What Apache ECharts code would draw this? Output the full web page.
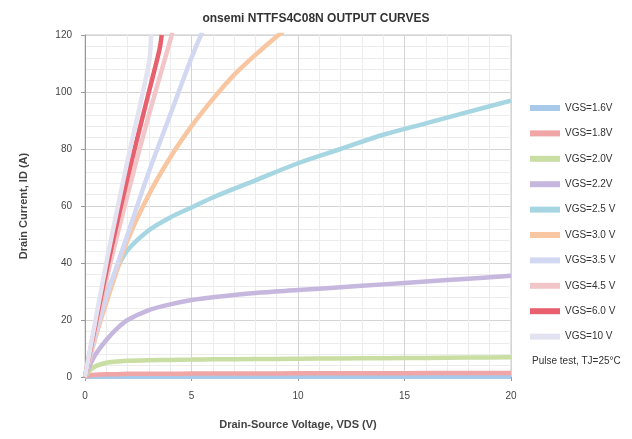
<!DOCTYPE html>
<html>
<head>
<meta charset="utf-8">
<script src="https://cdn.jsdelivr.net/npm/echarts@6/dist/echarts.min.js"></script>
<style>
  html, body { margin: 0; padding: 0; background: #fff; }
  #chart { width: 632px; height: 439px; }
</style>
</head>
<body>
<div id="chart"></div>
<script>
// Typical output characteristics: drain current vs drain-source voltage per gate drive
var seriesNames = ['VGS=1.6V', 'VGS=1.8V', 'VGS=2.0V', 'VGS=2.2V', 'VGS=2.5 V', 'VGS=3.0 V',
                   'VGS=3.5 V', 'VGS=4.5 V', 'VGS=6.0 V', 'VGS=10 V'];
var seriesColors = ['#a9c9ea', '#f0a6a6', '#c9dea2', '#c6b7de', '#a6d6e2', '#f8c6a0',
                    '#d2d8f2', '#f2c6c8', '#e8606e', '#e2e2f0'];
var noteText = 'Pulse test, TJ=25°C';

// Low gate-drive curves share one voltage sweep
var vdsSweep = [0, 0.25, 0.5, 1, 1.5, 2, 3, 4, 5, 6, 8, 10, 12, 14, 16, 18, 20];
var id1 = [0, 0.05, 0.08, 0.1, 0.1, 0.1, 0.1, 0.1, 0.1, 0.1, 0.1, 0.1, 0.1, 0.1, 0.1, 0.1, 0.1];
var id2 = [0, 0.6, 0.8, 1.0, 1.0, 1.1, 1.1, 1.1, 1.2, 1.2, 1.2, 1.3, 1.3, 1.3, 1.4, 1.4, 1.4];
var id3 = [0, 2.5, 3.8, 5.0, 5.4, 5.7, 5.9, 6.0, 6.1, 6.2, 6.3, 6.4, 6.5, 6.6, 6.7, 6.8, 6.9];
var id4 = [0, 4.5, 8, 13, 17, 20, 23.5, 25.5, 27, 28, 29.5, 30.5, 31.5, 32.5, 33.5, 34.5, 35.5];
var id5 = [0, 9, 17, 29, 38, 44.5, 51.5, 56, 59.5, 63, 69, 75, 80, 85, 89, 93, 97];

// Higher gate-drive curves leave the 120 A window early
var vds6 = [0, 0.5, 1, 2, 3, 4, 5, 6, 7, 8, 9, 9.3];
var id6 = [0, 14, 26, 48, 64, 77, 88, 97.5, 106, 113, 119.5, 121];
var vds7 = [0, 0.5, 1, 2, 3, 4, 5, 5.5];
var id7 = [0, 15, 28, 50, 72, 92, 112, 121];
var vds8 = [0, 1, 2, 3, 4, 4.1];
var id8 = [0, 34, 64, 92, 118, 121];
var vds9 = [0, 1, 2, 3, 3.5, 3.6];
var id9 = [0, 37, 70, 100, 115, 120];
var vds10 = [0, 1, 2, 3, 3.1];
var id10 = [0, 40, 76, 110, 120];

var xTicks = [0, 5, 10, 15, 20];
var yTicks = [0, 20, 40, 60, 80, 100, 120];

function zip(xs, ys) {
  return xs.map(function (x, i) { return [x, ys[i]]; });
}

var curves = [
  zip(vdsSweep, id1), zip(vdsSweep, id2), zip(vdsSweep, id3), zip(vdsSweep, id4),
  zip(vdsSweep, id5), zip(vds6, id6), zip(vds7, id7), zip(vds8, id8),
  zip(vds9, id9), zip(vds10, id10)
];

var chart = echarts.init(document.getElementById('chart'), null, { renderer: 'canvas' });

var series = curves.map(function (pts, i) {
  return {
    name: seriesNames[i],
    type: 'line',
    data: pts,
    smooth: 0.3,
    showSymbol: false,
    clip: true,
    lineStyle: { width: 4.5, color: seriesColors[i] },
    itemStyle: { color: seriesColors[i] },
    z: 2 + i
  };
});

chart.setOption({
  animation: false,
  backgroundColor: '#ffffff',
  title: {
    text: 'onsemi NTTFS4C08N OUTPUT CURVES',
    left: 'center',
    top: 8,
    textStyle: { fontFamily: 'Liberation Sans', fontSize: 12, fontWeight: 'bold', color: '#333' }
  },
  grid: {
    left: 85, right: 121, top: 35, bottom: 62,
    show: true, borderColor: '#c8c8c8', borderWidth: 1
  },
  legend: {
    orient: 'vertical',
    left: 525,
    top: 98,
    itemWidth: 30,
    itemHeight: 6,
    itemGap: 15.4,
    icon: 'rect',
    data: seriesNames,
    textStyle: { fontFamily: 'Liberation Sans', fontSize: 10, color: '#333' }
  },
  graphic: [{
    type: 'text',
    left: 532,
    top: 356,
    style: { text: noteText, fontFamily: 'Liberation Sans', fontSize: 10, fill: '#333' }
  }],
  xAxis: {
    type: 'value',
    min: xTicks[0],
    max: xTicks[xTicks.length - 1],
    interval: 5,
    name: 'Drain-Source Voltage, VDS (V)',
    nameLocation: 'middle',
    nameGap: 42,
    nameTextStyle: { fontFamily: 'Liberation Sans', fontSize: 11, fontWeight: 'bold', color: '#444' },
    axisLine: { show: true, lineStyle: { color: '#999' } },
    axisTick: { show: true, length: 4, lineStyle: { color: '#999' } },
    axisLabel: { fontFamily: 'Liberation Sans', fontSize: 10, color: '#444', margin: 14 },
    splitLine: { show: true, lineStyle: { color: '#d4d4d4', width: 1 } },
    minorTick: { show: false, splitNumber: 5 },
    minorSplitLine: { show: true, lineStyle: { color: '#ececec', width: 1 } }
  },
  yAxis: {
    type: 'value',
    min: yTicks[0],
    max: yTicks[yTicks.length - 1],
    interval: 20,
    name: 'Drain Current, ID (A)',
    nameLocation: 'middle',
    nameGap: 56,
    nameTextStyle: { fontFamily: 'Liberation Sans', fontSize: 11, fontWeight: 'bold', color: '#444' },
    axisLine: { show: true, lineStyle: { color: '#999' } },
    axisTick: { show: true, length: 4, lineStyle: { color: '#999' } },
    axisLabel: { fontFamily: 'Liberation Sans', fontSize: 10, color: '#444', margin: 13 },
    splitLine: { show: true, lineStyle: { color: '#d4d4d4', width: 1 } },
    minorTick: { show: false, splitNumber: 5 },
    minorSplitLine: { show: true, lineStyle: { color: '#ececec', width: 1 } }
  },
  series: series
});
</script>
</body>
</html>
